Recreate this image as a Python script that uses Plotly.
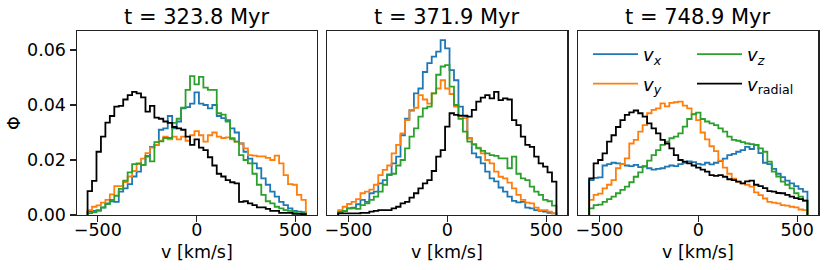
import numpy as np
import plotly.graph_objects as go

# ---------------- data ----------------
BIN_LO, BIN_HI, N_BINS = -552, 552, 49

titles = ["t = 323.8 Myr", "t = 371.9 Myr", "t = 748.9 Myr"]
series_names = ["<i>v</i><sub><i>x</i></sub>", "<i>v</i><sub><i>y</i></sub>",
                "<i>v</i><sub><i>z</i></sub>", "<i>v</i><sub>radial</sub>"]
series_colors = ["#1f77b4", "#ff7f0e", "#2ca02c", "#000000"]
x_tick_vals = [-500, 0, 500]
x_tick_text = ["\u2212500", "0", "500"]
y_tick_vals = [0.0, 0.02, 0.04, 0.06]
y_tick_text = ["0.00", "0.02", "0.04", "0.06"]
x_label = "v [km/s]"
y_label = "\u03a6"

# t = 323.8 Myr
vx_1 = [0.0012, 0.0015, 0.0018, 0.0027, 0.0042, 0.0050, 0.0048, 0.0085, 0.0097, 0.0112,
        0.0140, 0.0158, 0.0182, 0.0212, 0.0248, 0.0255, 0.0310, 0.0315, 0.0360, 0.0315,
        0.0340, 0.0388, 0.0392, 0.0405, 0.0446, 0.0405, 0.0400, 0.0388, 0.0400, 0.0360,
        0.0352, 0.0345, 0.0315, 0.0300, 0.0260, 0.0230, 0.0205, 0.0188, 0.0170, 0.0133,
        0.0110, 0.0085, 0.0067, 0.0048, 0.0036, 0.0024, 0.0015, 0.0012, 0.0010]
vy_1 = [0.0018, 0.0030, 0.0035, 0.0045, 0.0055, 0.0075, 0.0105, 0.0105, 0.0120, 0.0140,
        0.0160, 0.0185, 0.0205, 0.0225, 0.0245, 0.0255, 0.0270, 0.0285, 0.0275, 0.0285,
        0.0275, 0.0285, 0.0270, 0.0290, 0.0305, 0.0290, 0.0267, 0.0290, 0.0300, 0.0285,
        0.0280, 0.0282, 0.0275, 0.0267, 0.0260, 0.0242, 0.0218, 0.0216, 0.0213, 0.0213,
        0.0208, 0.0200, 0.0216, 0.0188, 0.0145, 0.0112, 0.0110, 0.0073, 0.0055]
vz_1 = [0.0007, 0.0010, 0.0015, 0.0028, 0.0040, 0.0055, 0.0070, 0.0095, 0.0125, 0.0155,
        0.0185, 0.0188, 0.0182, 0.0215, 0.0195, 0.0265, 0.0268, 0.0280, 0.0280, 0.0335,
        0.0350, 0.0390, 0.0455, 0.0505, 0.0475, 0.0502, 0.0463, 0.0455, 0.0455, 0.0370,
        0.0365, 0.0340, 0.0279, 0.0267, 0.0218, 0.0200, 0.0188, 0.0150, 0.0110, 0.0073,
        0.0050, 0.0042, 0.0030, 0.0024, 0.0018, 0.0015, 0.0010, 0.0006, 0.0006]
vr_1 = [0.0087, 0.0124, 0.0230, 0.0285, 0.0336, 0.0360, 0.0394, 0.0397, 0.0420, 0.0436,
        0.0448, 0.0442, 0.0428, 0.0376, 0.0397, 0.0354, 0.0350, 0.0340, 0.0335, 0.0320,
        0.0315, 0.0310, 0.0285, 0.0255, 0.0275, 0.0245, 0.0236, 0.0210, 0.0180, 0.0150,
        0.0140, 0.0127, 0.0119, 0.0115, 0.0048, 0.0050, 0.0042, 0.0036, 0.0028, 0.0028,
        0.0022, 0.0015, 0.0015, 0.0008, 0.0008, 0.0008, 0.0004, 0.0004, 0.0003]

# t = 371.9 Myr
vx_2 = [0.0012, 0.0014, 0.0024, 0.0027, 0.0039, 0.0055, 0.0048, 0.0079, 0.0085, 0.0115,
        0.0127, 0.0148, 0.0188, 0.0212, 0.0290, 0.0350, 0.0380, 0.0442, 0.0460, 0.0520,
        0.0552, 0.0576, 0.0594, 0.0636, 0.0606, 0.0527, 0.0490, 0.0394, 0.0360, 0.0279,
        0.0224, 0.0210, 0.0188, 0.0158, 0.0133, 0.0122, 0.0100, 0.0085, 0.0067, 0.0051,
        0.0046, 0.0048, 0.0027, 0.0024, 0.0018, 0.0015, 0.0012, 0.0008, 0.0006]
vy_2 = [0.0018, 0.0030, 0.0040, 0.0048, 0.0058, 0.0079, 0.0085, 0.0092, 0.0110, 0.0145,
        0.0164, 0.0180, 0.0224, 0.0255, 0.0297, 0.0345, 0.0382, 0.0390, 0.0436, 0.0420,
        0.0405, 0.0442, 0.0460, 0.0490, 0.0460, 0.0440, 0.0394, 0.0360, 0.0352, 0.0279,
        0.0255, 0.0245, 0.0224, 0.0200, 0.0188, 0.0158, 0.0139, 0.0133, 0.0118, 0.0097,
        0.0073, 0.0055, 0.0045, 0.0042, 0.0027, 0.0018, 0.0018, 0.0012, 0.0006]
vz_2 = [0.0010, 0.0015, 0.0024, 0.0024, 0.0022, 0.0036, 0.0042, 0.0055, 0.0067, 0.0085,
        0.0110, 0.0145, 0.0150, 0.0180, 0.0200, 0.0242, 0.0285, 0.0315, 0.0358, 0.0388,
        0.0394, 0.0442, 0.0510, 0.0540, 0.0545, 0.0467, 0.0400, 0.0350, 0.0303, 0.0267,
        0.0258, 0.0242, 0.0233, 0.0224, 0.0218, 0.0215, 0.0206, 0.0206, 0.0170, 0.0212,
        0.0150, 0.0133, 0.0127, 0.0103, 0.0085, 0.0073, 0.0055, 0.0050, 0.0034]
vr_2 = [0.0006, 0.0006, 0.0006, 0.0006, 0.0006, 0.0008, 0.0008, 0.0012, 0.0015, 0.0018,
        0.0018, 0.0018, 0.0024, 0.0030, 0.0042, 0.0048, 0.0063, 0.0079, 0.0097, 0.0115,
        0.0127, 0.0160, 0.0212, 0.0236, 0.0321, 0.0370, 0.0364, 0.0361, 0.0361, 0.0358,
        0.0382, 0.0412, 0.0427, 0.0436, 0.0424, 0.0448, 0.0418, 0.0424, 0.0420, 0.0345,
        0.0327, 0.0285, 0.0255, 0.0248, 0.0212, 0.0188, 0.0176, 0.0155, 0.0121]

# t = 748.9 Myr
vx_3 = [0.0127, 0.0135, 0.0137, 0.0180, 0.0185, 0.0190, 0.0188, 0.0185, 0.0180, 0.0178,
        0.0182, 0.0174, 0.0178, 0.0170, 0.0165, 0.0168, 0.0170, 0.0176, 0.0180, 0.0178,
        0.0185, 0.0190, 0.0195, 0.0192, 0.0186, 0.0183, 0.0190, 0.0184, 0.0190, 0.0196,
        0.0205, 0.0218, 0.0222, 0.0230, 0.0236, 0.0248, 0.0240, 0.0255, 0.0225, 0.0190,
        0.0185, 0.0168, 0.0150, 0.0138, 0.0125, 0.0115, 0.0105, 0.0095, 0.0085]
vy_3 = [0.0055, 0.0073, 0.0078, 0.0097, 0.0110, 0.0127, 0.0170, 0.0185, 0.0206, 0.0260,
        0.0273, 0.0303, 0.0327, 0.0370, 0.0382, 0.0388, 0.0406, 0.0395, 0.0408, 0.0410,
        0.0412, 0.0398, 0.0388, 0.0368, 0.0345, 0.0300, 0.0275, 0.0250, 0.0232, 0.0198,
        0.0172, 0.0150, 0.0132, 0.0121, 0.0115, 0.0110, 0.0103, 0.0082, 0.0072, 0.0060,
        0.0048, 0.0045, 0.0042, 0.0036, 0.0034, 0.0030, 0.0028, 0.0020, 0.0018]
vz_3 = [0.0024, 0.0036, 0.0038, 0.0048, 0.0058, 0.0067, 0.0079, 0.0091, 0.0103, 0.0119,
        0.0139, 0.0155, 0.0176, 0.0198, 0.0218, 0.0236, 0.0255, 0.0267, 0.0279, 0.0285,
        0.0297, 0.0321, 0.0349, 0.0366, 0.0372, 0.0349, 0.0340, 0.0333, 0.0327, 0.0315,
        0.0303, 0.0285, 0.0273, 0.0270, 0.0265, 0.0260, 0.0258, 0.0255, 0.0242, 0.0230,
        0.0194, 0.0158, 0.0140, 0.0121, 0.0110, 0.0097, 0.0079, 0.0067, 0.0052]
vr_3 = [0.0133, 0.0188, 0.0200, 0.0224, 0.0267, 0.0290, 0.0320, 0.0345, 0.0364, 0.0373,
        0.0380, 0.0370, 0.0358, 0.0333, 0.0315, 0.0297, 0.0273, 0.0260, 0.0242, 0.0218,
        0.0200, 0.0194, 0.0188, 0.0180, 0.0172, 0.0165, 0.0158, 0.0145, 0.0142, 0.0145,
        0.0139, 0.0130, 0.0127, 0.0121, 0.0115, 0.0122, 0.0125, 0.0110, 0.0105, 0.0098,
        0.0087, 0.0085, 0.0080, 0.0079, 0.0073, 0.0067, 0.0061, 0.0058, 0.0052]

panels = [[vx_1, vy_1, vz_1, vr_1], [vx_2, vy_2, vz_2, vr_2], [vx_3, vy_3, vz_3, vr_3]]

# ---------------- layout geometry (pixels) ----------------
W, H = 830, 270
FONT = "DejaVu Sans, Verdana, sans-serif"
x_px = [(76.7, 316.7), (327.3, 567.3), (578.3, 818.3)]
x_range = [-607, 607]
y_px = (31.0, 215.0)
y_range = [0, 0.0669]
TICK_SIZE = 17.5
LABEL_SIZE = 17.5
TITLE_SIZE = 21
LEGEND_SIZE = 18

edges = np.linspace(BIN_LO, BIN_HI, N_BINS + 1)


def step_xy(vals):
    v = list(vals)
    xs = [edges[0]] + list(edges[:-1]) + [edges[-1], edges[-1]]
    ys = [0.0] + v + [v[-1], 0.0]
    return xs, ys


fig = go.Figure()
for p, series in enumerate(panels):
    xa = "x" if p == 0 else f"x{p + 1}"
    ya = "y" if p == 0 else f"y{p + 1}"
    for s, vals in enumerate(series):
        xs, ys = step_xy(vals)
        fig.add_trace(go.Scatter(
            x=xs, y=ys, mode="lines", xaxis=xa, yaxis=ya,
            line=dict(color=series_colors[s], width=1.8, shape="hv"),
            name=series_names[s], showlegend=(p == 0), legendgroup=f"g{s}",
            legend="legend" if s in (0, 1) else "legend2",
            hoverinfo="skip"))

ydom = [1 - y_px[1] / H, 1 - y_px[0] / H]
axis_common = dict(showline=True, mirror=True, linecolor="#222222", linewidth=1.2,
                   showgrid=False, zeroline=False, automargin=False,
                   ticks="outside", ticklen=6, tickwidth=1.2, tickcolor="#222222",
                   tickfont=dict(family=FONT, size=TICK_SIZE, color="black"))
layout = dict(width=W, height=H, margin=dict(l=0, r=0, t=0, b=0),
              paper_bgcolor="white", plot_bgcolor="white",
              font=dict(family=FONT, color="black"))
annotations = []
for p in range(3):
    sfx = "" if p == 0 else str(p + 1)
    layout["xaxis" + sfx] = dict(axis_common, domain=[x_px[p][0] / W, x_px[p][1] / W],
                                 range=x_range, anchor="y" + sfx,
                                 tickvals=x_tick_vals, ticktext=x_tick_text,
                                 ticklabelstandoff=-7)
    yax = dict(axis_common, domain=ydom, range=y_range, anchor="x" + sfx)
    if p == 0:
        yax.update(tickvals=y_tick_vals, ticktext=y_tick_text)
    else:
        yax.update(showticklabels=False, ticks="")
    layout["yaxis" + sfx] = yax
    cx = (x_px[p][0] + x_px[p][1]) / 2 / W
    annotations.append(dict(text=titles[p], x=cx, y=1 - 17.5 / H, xref="paper", yref="paper",
                            xanchor="center", yanchor="middle", showarrow=False,
                            font=dict(family=FONT, size=TITLE_SIZE, color="black")))
    annotations.append(dict(text=x_label, x=cx, y=1 - 252 / H, xref="paper", yref="paper",
                            xanchor="center", yanchor="middle", showarrow=False,
                            font=dict(family=FONT, size=LABEL_SIZE, color="black")))
annotations.append(dict(text=y_label, x=14 / W, y=1 - 123 / H, xref="paper", yref="paper",
                        xanchor="center", yanchor="middle", showarrow=False, textangle=-90,
                        font=dict(family=FONT, size=LABEL_SIZE, color="black")))
layout["annotations"] = annotations
leg = dict(yanchor="top", xanchor="left", orientation="v", bgcolor="rgba(0,0,0,0)",
           borderwidth=0, tracegroupgap=3, itemwidth=45,
           font=dict(family=FONT, size=LEGEND_SIZE, color="black"))
layout["legend"] = dict(leg, x=588 / W, y=1 - 36 / H)
layout["legend2"] = dict(leg, x=692 / W, y=1 - 36 / H)
fig.update_layout(**layout)
fig.write_html("out.html",
               config={"displayModeBar": False, "staticPlot": True},
               post_script="document.body.style.margin='0px';"
                           "document.body.style.overflow='hidden';")
